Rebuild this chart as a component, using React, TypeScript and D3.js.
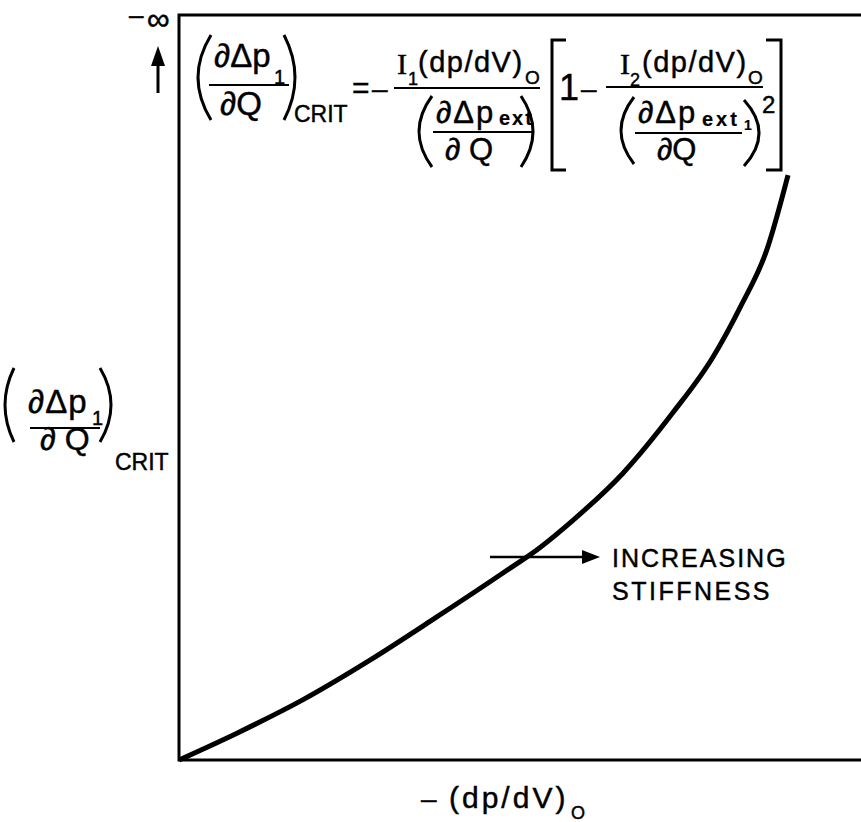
import React from 'react';
import * as d3 from 'd3';

const width = 861;
const height = 822;
const frame = { left: 179, right: 861, top: 15, bottom: 760 };

// curve, in percent of the frame
const stiffnessX = [0, 8.5, 18.2, 28.0, 37.8, 47.5, 52.9, 57.8, 65.1, 72.4, 78.3, 82.3, 86.2, 89.3];
const critY = [0, 3.6, 8.1, 13.4, 19.2, 25.1, 28.5, 32.2, 38.5, 46.6, 54.1, 60.8, 68.5, 78.5];

const xLabel = '(dp/dV)';
const yLabelSub = 'CRIT';
const noteLines = ['INCREASING', 'STIFFNESS'];

const sans = '"Liberation Sans", Arial, Helvetica, sans-serif';
const serif = '"Liberation Serif", "Times New Roman", serif';

type TProps = { x: number; y: number; size: number; children: React.ReactNode; bold?: boolean; ls?: number; family?: string };
// a light stroke thickens the glyphs toward the lettering-guide look
const T = ({ x, y, size, children, bold, ls, family }: TProps) => (
  <text x={x} y={y} fontSize={size} fontFamily={family || sans} fontWeight={bold ? 'bold' : 'normal'}
    letterSpacing={ls || 0} fill="#000" stroke="#000" strokeWidth={bold ? 0.2 : 0.45}>
    {children}
  </text>
);

// "(" or ")" drawn as a quadratic stroke: ends at endX, belly at bulgeX
const paren = (endX: number, bulgeX: number, top: number, bottom: number) =>
  `M${endX},${top} Q${2 * bulgeX - endX},${(top + bottom) / 2} ${endX},${bottom}`;

const Rule = ({ x1, x2, y }: { x1: number; x2: number; y: number }) => (
  <line x1={x1} x2={x2} y1={y} y2={y} stroke="#000" strokeWidth={2.2} />
);

export default function App() {
  const x = d3.scaleLinear().domain([0, 100]).range([frame.left, frame.right]);
  const y = d3.scaleLinear().domain([0, 100]).range([frame.bottom, frame.top]);

  const data = stiffnessX.map((v, i) => [v, critY[i]] as [number, number]);
  const line = d3.line<[number, number]>()
    .x(d => x(d[0]))
    .y(d => y(d[1]))
    .curve(d3.curveMonotoneX);

  const p = { fill: 'none', stroke: '#000', strokeWidth: 3 };

  return (
    <svg width={width} height={height} style={{ position: 'absolute', left: 0, top: 0, background: '#fff' }}>
      {/* frame: left, top and bottom only */}
      <path
        d={`M${x.range()[1]},${y(100)} H${x(0)} V${y(0)} H${x.range()[1]}`}
        fill="none" stroke="#000" strokeWidth={3}
      />
      <path d={line(data) || ''} fill="none" stroke="#000" strokeWidth={5} />

      {/* -infinity and up arrow */}
      <T x={129} y={24} size={26}>–</T>
      <T x={147} y={30} size={32}>∞</T>
      <line x1={158} x2={158} y1={62} y2={93} stroke="#000" strokeWidth={3} />
      <path d="M158,46 L151,66 L165,66 Z" fill="#000" />

      {/* left-hand side of the formula */}
      <path d={paren(211, 198, 35, 120)} {...p} />
      <T x={214} y={67} size={33}>∂Δp</T>
      <T x={274} y={84} size={20}>1</T>
      <Rule x1={209} x2={289} y={85} />
      <T x={220} y={115} size={33}>∂Q</T>
      <path d={paren(284, 295, 35, 120)} {...p} />
      <T x={294} y={122} size={23}>{yLabelSub}</T>
      <T x={352} y={98} size={30}>=</T>
      <T x={372} y={98} size={28}>–</T>

      {/* first fraction */}
      <T x={397} y={74} size={30} family={serif}>I</T>
      <T x={408} y={85} size={18}>1</T>
      <T x={418} y={72} size={29} ls={1.5}>(dp/dV)</T>
      <T x={525} y={84} size={19}>O</T>
      <Rule x1={394} x2={540} y={88} />
      <path d={paren(432, 419, 96, 167)} {...p} />
      <T x={436} y={123} size={31} ls={2}>∂Δp</T>
      <T x={499} y={125} size={20} bold ls={2}>ext</T>
      <Rule x1={433} x2={533} y={132} />
      <T x={445} y={160} size={31}>∂ Q</T>
      <path d={paren(521, 533, 96, 167)} {...p} />

      {/* bracket */}
      <path d="M566,40 H552 V170 H566" {...p} />
      <T x={559} y={100} size={36}>1</T>
      <T x={581} y={98} size={28}>–</T>
      <T x={620} y={74} size={30} family={serif}>I</T>
      <T x={630} y={86} size={18}>2</T>
      <T x={642} y={72} size={29} ls={1.5}>(dp/dV)</T>
      <T x={748} y={84} size={19}>O</T>
      <Rule x1={606} x2={763} y={87} />
      <path d={paren(634, 621, 97, 164)} {...p} />
      <T x={638} y={123} size={31} ls={2}>∂Δp</T>
      <T x={702} y={126} size={20} bold ls={3}>ext</T>
      <T x={744} y={130} size={14} bold>1</T>
      <Rule x1={635} x2={742} y={133} />
      <T x={657} y={160} size={31}>∂Q</T>
      <path d={paren(744, 759, 100, 166)} {...p} />
      <T x={762} y={113} size={24}>2</T>
      <path d="M766,40 H781 V170 H766" {...p} />

      {/* y label */}
      <path d={paren(14, 5, 368, 442)} {...p} />
      <T x={28} y={413} size={33} ls={1}>∂Δp</T>
      <T x={92} y={425} size={20}>1</T>
      <Rule x1={30} x2={100} y={428} />
      <T x={40} y={450} size={32}>∂ Q</T>
      <path d={paren(100, 111, 368, 442)} {...p} />
      <T x={115} y={470} size={23}>{yLabelSub}</T>

      {/* increasing stiffness note */}
      <line x1={490} x2={586} y1={557} y2={557} stroke="#000" strokeWidth={2.5} />
      <path d="M600,557 L582,550 L582,564 Z" fill="#000" />
      <T x={612} y={567} size={25} ls={2}>{noteLines[0]}</T>
      <T x={612} y={600} size={25} ls={2.5}>{noteLines[1]}</T>

      {/* x label */}
      <T x={421} y={808} size={28}>–</T>
      <T x={449} y={808} size={30} ls={3}>{xLabel}</T>
      <T x={571} y={819} size={18}>O</T>
    </svg>
  );
}
